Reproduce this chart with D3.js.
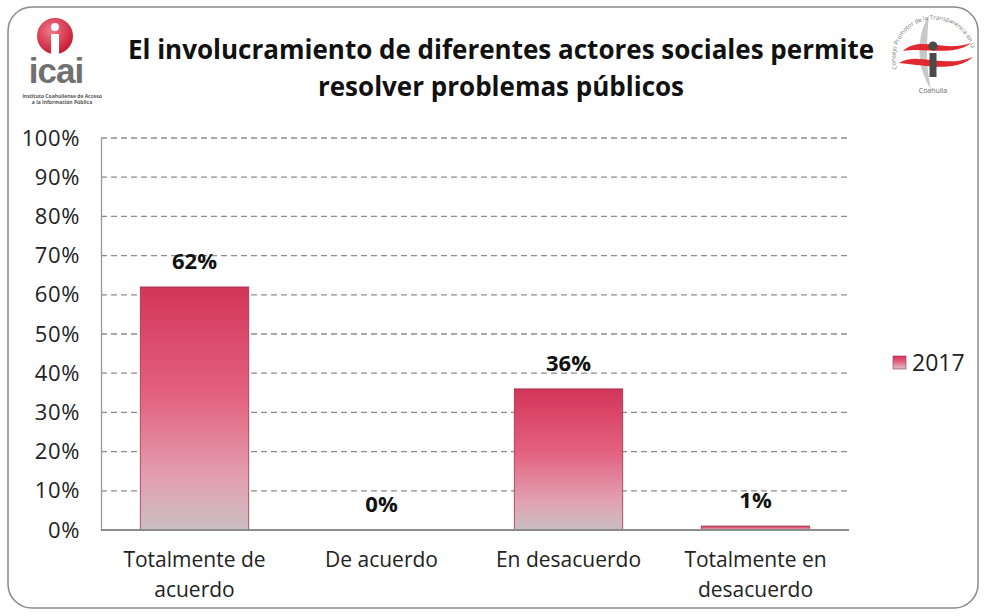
<!DOCTYPE html>
<html>
<head>
<meta charset="utf-8">
<script src="https://cdn.jsdelivr.net/npm/d3@7"></script>
<style>
  body { margin: 0; background: #fff; }
  text { font-family: "Open Sans", "Noto Sans", sans-serif; }
</style>
</head>
<body>
<svg id="chart" width="984" height="616"></svg>
<script>
// datos de la gráfica
const categories = [["Totalmente de", "acuerdo"], ["De acuerdo"], ["En desacuerdo"], ["Totalmente en", "desacuerdo"]];
const values2017 = [0.62, 0.00, 0.36, 0.01];
const valueLabels = ["62%", "0%", "36%", "1%"];
const yTicks = [0, 0.1, 0.2, 0.3, 0.4, 0.5, 0.6, 0.7, 0.8, 0.9, 1.0];
const titleLines = ["El involucramiento de diferentes actores sociales permite", "resolver problemas públicos"];
const seriesName = "2017";

const svg = d3.select("#chart");
const plot = { left: 101, right: 849, top: 138, bottom: 530 };

// marco redondeado
svg.append("rect")
    .attr("x", 8).attr("y", 7).attr("width", 970).attr("height", 601)
    .attr("rx", 24).attr("fill", "#fff")
    .attr("stroke", "#8a8a8a").attr("stroke-width", 1.5);

// degradado de las barras
const defs = svg.append("defs");
const grad = defs.append("linearGradient").attr("id", "barGrad")
    .attr("x1", 0).attr("y1", 0).attr("x2", 0).attr("y2", 1);
grad.append("stop").attr("offset", "0%").attr("stop-color", "#d3345a");
grad.append("stop").attr("offset", "45%").attr("stop-color", "#e3627f");
grad.append("stop").attr("offset", "80%").attr("stop-color", "#e2a2b2");
grad.append("stop").attr("offset", "100%").attr("stop-color", "#c9bfc3");

const x = d3.scaleBand()
    .domain(d3.range(categories.length))
    .range([plot.left, plot.right])
    .paddingInner(0.42).paddingOuter(0.21);

const y = d3.scaleLinear().domain([0, 1]).range([plot.bottom, plot.top]);

// líneas de cuadrícula
svg.append("g").selectAll("line")
    .data(yTicks.filter(d => d > 0))
    .join("line")
    .attr("x1", plot.left).attr("x2", plot.right)
    .attr("y1", d => y(d)).attr("y2", d => y(d))
    .attr("stroke", "#8c8c8c").attr("stroke-width", 1.3)
    .attr("stroke-dasharray", "6,4");

// eje Y
const yAxis = svg.append("g")
    .attr("transform", `translate(${plot.left},0)`)
    .call(d3.axisLeft(y).tickValues(yTicks).tickFormat(d3.format(".0%")).tickSize(0).tickPadding(21));
yAxis.select(".domain").attr("stroke", "#9a9a9a").attr("stroke-width", 1.3);
yAxis.selectAll("text").attr("font-size", 22).attr("fill", "#222")
    .attr("letter-spacing", 0.6)
    .style("font-family", "'Open Sans', sans-serif");

// barras
svg.append("g").selectAll("rect")
    .data(values2017)
    .join("rect")
    .attr("x", (d, i) => x(i))
    .attr("y", d => y(d))
    .attr("width", x.bandwidth())
    .attr("height", d => plot.bottom - y(d))
    .attr("fill", "url(#barGrad)")
    .attr("stroke", d => d > 0 ? "#9b3450" : "none")
    .attr("stroke-width", 0.8);

// eje X
svg.append("line")
    .attr("x1", plot.left).attr("x2", plot.right)
    .attr("y1", plot.bottom).attr("y2", plot.bottom)
    .attr("stroke", "#8c8c8c").attr("stroke-width", 2);

// etiquetas de categorías
const xl = svg.append("g").selectAll("text")
    .data(categories)
    .join("text")
    .attr("text-anchor", "middle")
    .attr("font-size", 21)
    .attr("fill", "#222")
    .attr("x", (d, i) => x(i) + x.bandwidth() / 2)
    .attr("y", 567);
xl.selectAll("tspan")
    .data(d => d)
    .join("tspan")
    .attr("x", function () { return d3.select(this.parentNode).attr("x"); })
    .attr("dy", (d, i) => i === 0 ? 0 : 30)
    .text(d => d);

// etiquetas de valores
svg.append("g").selectAll("text")
    .data(values2017)
    .join("text")
    .attr("text-anchor", "middle")
    .attr("font-size", 22).attr("font-weight", "bold").attr("fill", "#111")
    .attr("x", (d, i) => x(i) + x.bandwidth() / 2)
    .attr("y", d => y(d) - 18)
    .text((d, i) => valueLabels[i]);

// título
svg.append("g").selectAll("text")
    .data(titleLines)
    .join("text")
    .attr("text-anchor", "middle")
    .attr("x", 501)
    .attr("y", (d, i) => 59 + i * 37)
    .attr("font-size", 26).attr("font-weight", "bold").attr("fill", "#111")
    .text(d => d);

// leyenda
const lg = svg.append("g").attr("transform", "translate(893,356)");
lg.append("rect").attr("width", 13).attr("height", 13)
    .attr("fill", "url(#barGrad)").attr("stroke", "#9b3450").attr("stroke-width", 0.6);
lg.append("text").attr("x", 19).attr("y", 15).attr("font-size", 23).attr("fill", "#222").text(seriesName);

// logotipo izquierdo (icai)
const logoL = svg.append("g");
const sph = defs.append("radialGradient").attr("id", "sph").attr("cx", "40%").attr("cy", "35%").attr("r", "65%");
sph.append("stop").attr("offset", "0%").attr("stop-color", "#f27a8a");
sph.append("stop").attr("offset", "100%").attr("stop-color", "#c81d36");
logoL.append("circle").attr("cx", 55).attr("cy", 36).attr("r", 18).attr("fill", "url(#sph)");
logoL.append("circle").attr("cx", 55).attr("cy", 27).attr("r", 4).attr("fill", "#fff");
logoL.append("rect").attr("x", 51).attr("y", 34).attr("width", 8).attr("height", 20).attr("rx", 1).attr("fill", "#fff");
logoL.append("text").attr("x", 56).attr("y", 83).attr("text-anchor", "middle")
    .attr("font-size", 35).attr("font-weight", "bold").attr("fill", "#707070")
    .attr("letter-spacing", -1)
    .style("font-family", "'Liberation Sans', Arial, sans-serif").text("icai");
logoL.append("text").attr("x", 62).attr("y", 98).attr("text-anchor", "middle")
    .attr("font-size", 5).attr("font-weight", "bold").attr("fill", "#555").text("Instituto Coahuilense de Acceso");
logoL.append("text").attr("x", 62).attr("y", 104).attr("text-anchor", "middle")
    .attr("font-size", 5).attr("font-weight", "bold").attr("fill", "#555").text("a la Información Pública");

// logotipo derecho
const logoR = svg.append("g").attr("transform", "translate(933,55)");
logoR.append("path").attr("d", "M-4,-40 C-16,-20 -18,10 -2,34 C-8,10 -6,-20 -4,-40 Z").attr("fill", "#c8c8c8");
logoR.append("path").attr("d", "M-30,-4 C-12,-20 10,-2 38,-12 C20,2 -8,-8 -30,-4 Z").attr("fill", "#e0282e");
logoR.append("path").attr("d", "M-34,8 C-16,-4 10,14 40,2 C22,18 -10,10 -34,8 Z").attr("fill", "#e0282e");
logoR.append("circle").attr("cx", 0).attr("cy", -9).attr("r", 4.5).attr("fill", "#4a4a4a");
logoR.append("rect").attr("x", -3.5).attr("y", -2).attr("width", 7).attr("height", 24).attr("fill", "#4a4a4a");
logoR.append("path").attr("id", "arcR").attr("d", "M-36,14 A38,38 0 1 1 38,-8").attr("fill", "none");
logoR.append("text").attr("font-size", 6).attr("fill", "#777")
    .append("textPath").attr("href", "#arcR").text("Consejo Promotor de la Transparencia en la Educación");
logoR.append("text").attr("x", 0).attr("y", 38).attr("text-anchor", "middle")
    .attr("font-size", 7).attr("fill", "#666").text("Coahuila");
</script>
</body>
</html>
